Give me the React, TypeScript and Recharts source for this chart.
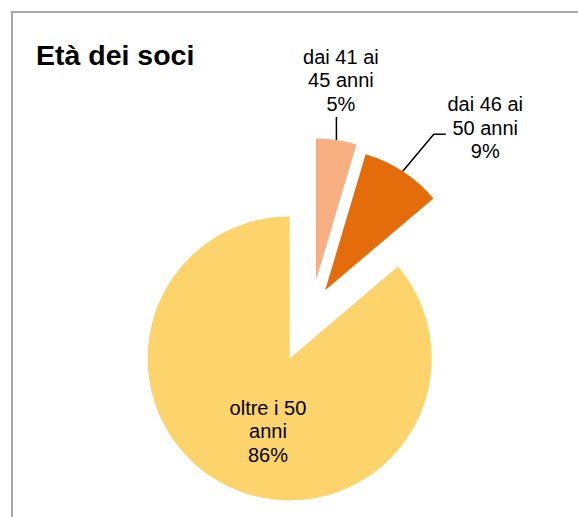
import { PieChart, Pie, Cell } from 'recharts';

// fasce d'età dei soci
const categorie = ['dai 41 ai 45 anni', 'dai 46 ai 50 anni', 'oltre i 50 anni'];
const righeEtichetta = [
  ['dai 41 ai', '45 anni'],
  ['dai 46 ai', '50 anni'],
  ['oltre i 50', 'anni'],
];
const quote = [4.6, 9.2, 86.2];

const colori = ['#F8AF82', '#E46C0A', '#FDD36B'];
const esplosione = [31, 25, 52];
// posizione etichetta: angolo (gradi da nord, orario) e distanza dal vertice della fetta
const posEtichetta = [
  { a: 7.1, r: 202 },
  { a: 44.6, r: 228 },
  { a: 196.6, r: 76 },
];
// linee guida relative al punto sul bordo della fetta
const guide: number[][][] = [[[0, -23]], [[31, -37], [43, -37]], []];

const data = categorie.map((nome, i) => ({ nome, value: quote[i] }));

const W = 578;
const H = 517;
const CX = 311.5;
const CY = 311.2;
const R = 142;
const RAD = Math.PI / 180;

const totale = quote.reduce((s, v) => s + v, 0);

function centroFetta(i: number) {
  const prima = quote.slice(0, i).reduce((s, v) => s + v, 0);
  const mid = 90 - (360 * (prima + quote[i] / 2)) / totale;
  return {
    x: CX + esplosione[i] * Math.cos(mid * RAD),
    y: CY - esplosione[i] * Math.sin(mid * RAD),
  };
}

const makeLabel = (target: number) => (props: any) => {
  const { cx, cy, midAngle, outerRadius, index, percent } = props;
  if (index !== target) return <g />;
  const px = cx + outerRadius * Math.cos(-midAngle * RAD);
  const py = cy + outerRadius * Math.sin(-midAngle * RAD);
  const pos = posEtichetta[index];
  const lx = cx + pos.r * Math.sin(pos.a * RAD);
  const ly = cy - pos.r * Math.cos(pos.a * RAD);
  const punti = guide[index];
  const righe = [...righeEtichetta[index], `${Math.round(percent * 100)}%`];
  return (
    <g>
      {punti.length > 0 && (
        <polyline
          points={[[0, 0], ...punti].map(([dx, dy]) => `${px + dx},${py + dy}`).join(' ')}
          fill="none"
          stroke="#000"
          strokeWidth={1.5}
        />
      )}
      <text
        x={lx}
        y={ly}
        textAnchor="middle"
        fontSize={20}
        fontFamily="'Liberation Sans', Arial, sans-serif"
        fill="#000"
      >
        {righe.map((t, k) => (
          <tspan key={k} x={lx} y={ly + (k - 1) * 23.5 + 7}>
            {t}
          </tspan>
        ))}
      </text>
    </g>
  );
};

export default function App() {
  return (
    <div
      style={{
        position: 'fixed',
        left: 0,
        top: 0,
        width: W,
        height: H,
        overflow: 'hidden',
        background: '#fff',
      }}
    >
      <div
        style={{
          position: 'absolute',
          left: 11,
          top: 11,
          width: 800,
          height: 800,
          border: '2px solid #A8A8A8',
        }}
      />
      <div
        style={{
          position: 'absolute',
          left: 36,
          top: 41,
          fontFamily: "'Liberation Sans', Arial, sans-serif",
          fontWeight: 700,
          fontSize: 28.5,
          lineHeight: '28px',
          color: '#000',
          whiteSpace: 'nowrap',
        }}
      >
        Età dei soci
      </div>
      <div style={{ position: 'absolute', left: 0, top: 0 }}>
        <PieChart width={W} height={H} margin={{ top: 0, right: 0, bottom: 0, left: 0 }}>
          {data.map((_, i) => {
            const c = centroFetta(i);
            return (
              <Pie
                key={i}
                data={data}
                dataKey="value"
                nameKey="nome"
                cx={c.x}
                cy={c.y}
                outerRadius={R}
                startAngle={90}
                endAngle={-270}
                stroke="none"
                labelLine={false}
                label={makeLabel(i)}
                isAnimationActive={false}
              >
                {data.map((_, j) => (
                  <Cell key={j} fill={j === i ? colori[j] : 'none'} stroke="none" />
                ))}
              </Pie>
            );
          })}
        </PieChart>
      </div>
    </div>
  );
}
